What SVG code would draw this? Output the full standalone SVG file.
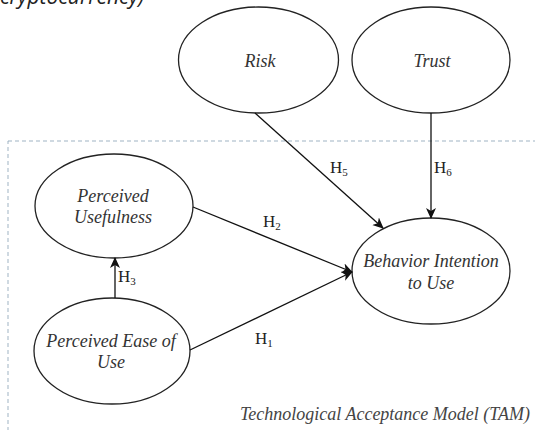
<svg xmlns="http://www.w3.org/2000/svg" width="535" height="430" viewBox="0 0 535 430">
<defs>
<marker id="ah" markerWidth="11" markerHeight="11" refX="10" refY="5.5" orient="auto" markerUnits="userSpaceOnUse">
<path d="M0,0.5 L11,5.5 L0,10.5 L3,5.5 Z" fill="#111"/>
</marker>
<style>
.node ellipse{fill:#fff;stroke:#222;stroke-width:1.3}
.lbl{font-family:"Liberation Serif",serif;font-style:italic;font-size:18px;fill:#333;text-anchor:middle}
.h{font-family:"Liberation Serif",serif;font-size:17px;fill:#222}
.sub{font-size:11px}
.edge{stroke:#111;stroke-width:1.3;fill:none;marker-end:url(#ah)}
</style>
</defs>
<rect width="535" height="430" fill="#fff"/>
<text x="0" y="4" font-family="'Open Sans',sans-serif" font-style="italic" font-size="21" fill="#222">cryptocurrency)</text>
<rect x="8" y="141" width="560" height="320" fill="none" stroke="#9fb3c3" stroke-width="1" stroke-dasharray="4,3"/>
<g id="risk" class="node"><ellipse cx="258.5" cy="60" rx="80" ry="53"/><text class="lbl" x="260" y="67">Risk</text></g>
<g id="trust" class="node"><ellipse cx="431" cy="60" rx="79" ry="53"/><text class="lbl" x="432" y="67">Trust</text></g>
<g id="pu" class="node"><ellipse cx="114" cy="206" rx="79" ry="52"/><text class="lbl" x="113" y="202">Perceived</text><text class="lbl" x="113" y="223">Usefulness</text></g>
<g id="peou" class="node"><ellipse cx="112" cy="351" rx="78" ry="53"/><text class="lbl" x="111" y="347">Perceived Ease of</text><text class="lbl" x="111" y="368">Use</text></g>
<g id="bi" class="node"><ellipse cx="431" cy="271" rx="79" ry="53"/><text class="lbl" x="431" y="267">Behavior Intention</text><text class="lbl" x="431" y="289">to Use</text></g>
<g id="connectors">
<line class="edge" x1="255" y1="113" x2="383" y2="228"/>
<line class="edge" x1="431" y1="113" x2="431" y2="218"/>
<line class="edge" x1="193" y1="207" x2="352" y2="272"/>
<line class="edge" x1="190" y1="350" x2="352" y2="272"/>
<line class="edge" x1="115" y1="298" x2="115" y2="258"/>
</g>
<g id="labels">
<text class="h" x="330" y="173">H<tspan class="sub" dy="3">5</tspan></text>
<text class="h" x="434" y="173">H<tspan class="sub" dy="3">6</tspan></text>
<text class="h" x="263" y="227">H<tspan class="sub" dy="3">2</tspan></text>
<text class="h" x="118" y="282">H<tspan class="sub" dy="3">3</tspan></text>
<text class="h" x="255" y="344">H<tspan class="sub" dy="3">1</tspan></text>
</g>
<text x="530" y="420" font-family="'Liberation Serif',serif" font-style="italic" font-size="18" fill="#444" text-anchor="end">Technological Acceptance Model (TAM)</text>
</svg>
